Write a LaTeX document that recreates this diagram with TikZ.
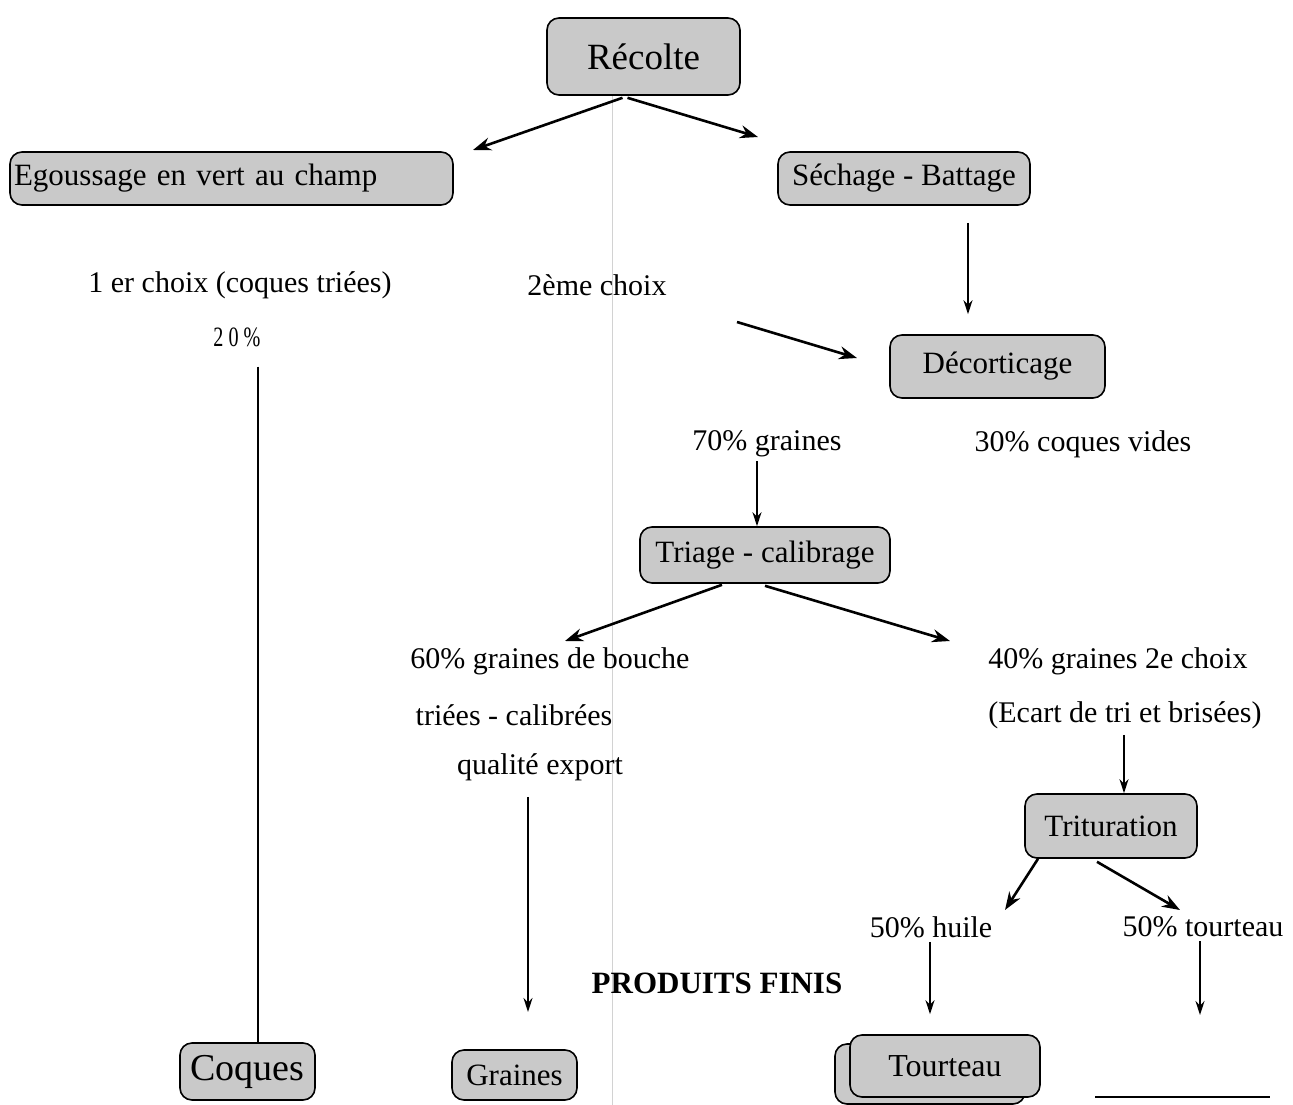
\documentclass[tikz,border=0pt]{standalone}
\usepackage{fontspec}
\setmainfont{Liberation Serif}
\usetikzlibrary{arrows.meta}
\definecolor{boxgray}{gray}{0.79}
\begin{document}
\begin{tikzpicture}[x=1pt,y=-1pt,
 box/.style={draw,line width=1.6pt,fill=boxgray,rounded corners=12pt,inner sep=0pt,font=\fontsize{31}{34}\selectfont},
 lbl/.style={font=\fontsize{30}{34}\selectfont,inner sep=0pt},
 arr/.style={-{Stealth[length=18pt,width=13pt]},line width=2.6pt},
 varr/.style={-{Stealth[length=14pt,width=9pt]},line width=1.5pt}]
\useasboundingbox (0,0) rectangle (1293,1105);
% faint scan line
\draw[gray!35,line width=0.6pt] (612,22) -- (612,1105);
% boxes
\node[box,minimum width=193,minimum height=77,font=\fontsize{37}{40}\selectfont] (recolte) at (643.5,56.5) {Récolte};
\node[box,minimum width=443,minimum height=53,text width=435,align=left] (egou) at (231.5,178.5) {Egoussage en vert au champ};
\node[box,minimum width=252,minimum height=53] (sech) at (904,178.5) {Séchage - Battage};
\node[box,minimum width=215,minimum height=63] (deco) at (997.5,366.5) {Décorticage};
\node[box,minimum width=250,minimum height=56] (triage) at (765,555) {Triage - calibrage};
\node[box,minimum width=172,minimum height=64] (trit) at (1111,826) {Trituration};
\node[box,minimum width=135,minimum height=57,font=\fontsize{38}{40}\selectfont] (coques) at (247.5,1071.5) {Coques};
\node[box,minimum width=125,minimum height=50] (graines) at (514.5,1075) {Graines};
\node[box,minimum width=190,minimum height=60] (tourback) at (930,1074) {};
\node[box,minimum width=190,minimum height=62,font=\fontsize{32}{34}\selectfont] (tourteau) at (945,1066) {Tourteau};
% labels
\node[lbl] (choix1) at (240,285) {1 er choix (coques triées)};
\node[lbl] (choix2) at (597,285) {2ème choix};
\node[lbl,font=\fontsize{28}{30}\selectfont] (pct20) at (237,337) {\scalebox{0.72}[1]{2 0 \%}};
\node[lbl] (g70) at (767,444) {70\% graines};
\node[lbl] (c30) at (1083,444) {30\% coques vides};
\node[lbl] (g60) at (550,661) {60\% graines de bouche};
\node[lbl] (triees) at (514,715) {triées - calibrées};
\node[lbl] (qual) at (540,767) {qualité export};
\node[lbl] (g40) at (1118,661) {40\% graines 2e choix};
\node[lbl] (ecart) at (1125,715) {(Ecart de tri et brisées)};
\node[lbl] (huile) at (931,927) {50\% huile};
\node[lbl] (tourt) at (1203,927) {50\% tourteau};
\node[lbl,font=\fontsize{31}{34}\selectfont\bfseries] (pf) at (717,983) {PRODUITS FINIS};
% free ends
\coordinate (e1) at (473,150);
\coordinate (e2) at (758,137);
\coordinate (e3) at (857,358);
\coordinate (s3) at (737,322);
\coordinate (e4) at (565,641);
\coordinate (e5) at (950,641);
\coordinate (e6) at (1005,910);
\coordinate (e7) at (1180,910);
\coordinate (e8) at (1200,1015);
\coordinate (e9) at (528,1012);
\coordinate (h1) at (1095,1097);
\coordinate (h2) at (1270,1097);
% connectors
\draw[arr] ([xshift=-21pt,yshift=-2pt]recolte.south) -- (e1);
\draw[arr] ([xshift=-16pt,yshift=-2pt]recolte.south) -- (e2);
\draw[varr] ([shift={(64pt,-17pt)}]sech.south) -- ([yshift=20pt]deco.north -| 968,0);
\draw[arr] (s3) -- (e3);
\draw[varr] ([yshift=-4pt]g70.south -| 757,0) -- (triage.north -| 757,0);
\draw[arr] ([xshift=-43pt,yshift=-1pt]triage.south) -- (e4);
\draw[arr] ([xshift=0pt,yshift=-2pt]triage.south) -- (e5);
\draw[varr] ([yshift=-6pt]ecart.south -| 1124,0) -- (trit.north -| 1124,0);
\draw[arr] ([xshift=-73pt,yshift=0pt]trit.south) -- (e6);
\draw[arr] ([xshift=-14pt,yshift=-3pt]trit.south) -- (e7);
\draw[varr] ([yshift=-4pt]huile.south -| 930,0) -- ([yshift=20pt]tourteau.north -| 930,0);
\draw[varr] ([yshift=-4pt]tourt.south -| 1200,0) -- (e8);
\draw[line width=2pt] ([yshift=-20pt]pct20.south -| 258,0) -- (coques.north -| 258,0);
\draw[varr,line width=1.8pt] ([yshift=-16pt]qual.south -| 528,0) -- (e9);
\draw[line width=2.8pt] (h1) -- (h2);
\end{tikzpicture}
\end{document}
